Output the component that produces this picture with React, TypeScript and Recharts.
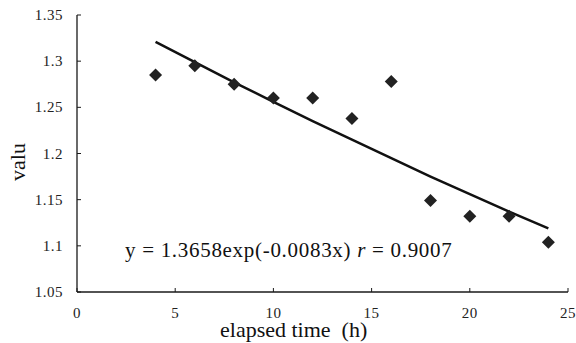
import { ScatterChart, Scatter, XAxis, YAxis, Customized } from "recharts";

const hours = [4, 6, 8, 10, 12, 14, 16, 18, 20, 22, 24];
const measured = [1.285, 1.295, 1.275, 1.26, 1.26, 1.238, 1.278, 1.149, 1.132, 1.132, 1.104];
// fitted curve at each sample time
const fitted = [1.321, 1.299, 1.277, 1.256, 1.235, 1.215, 1.195, 1.175, 1.156, 1.137, 1.119];
const xTicks = [0, 5, 10, 15, 20, 25];
const yTicks = [1.05, 1.1, 1.15, 1.2, 1.25, 1.3, 1.35];

const points = hours.map((h, i) => ({ x: h, y: measured[i] }));
const curve = hours.map((h, i) => ({ x: h, y: fitted[i] }));

const FONT = "'Liberation Serif', 'Times New Roman', serif";
const INK = "#1a1a1a";

function Diamond(props: any) {
  const { cx, cy } = props;
  const r = 6.5;
  return (
    <polygon
      points={`${cx},${cy - r} ${cx + r},${cy} ${cx},${cy + r} ${cx - r},${cy}`}
      fill="#222"
    />
  );
}

function XTick(props: any) {
  const { x, y, payload } = props;
  return (
    <g>
      <line x1={x} y1={y} x2={x} y2={y - 4} stroke={INK} strokeWidth={1} />
      <text x={x} y={y + 26} textAnchor="middle" fontFamily={FONT} fontSize={15} fill="#222" letterSpacing={0.5}>
        {payload.value}
      </text>
    </g>
  );
}

function YTick(props: any) {
  const { x, y, payload } = props;
  return (
    <g>
      <line x1={x} y1={y} x2={x + 4} y2={y} stroke={INK} strokeWidth={1} />
      <text x={x - 14} y={y + 5} textAnchor="end" fontFamily={FONT} fontSize={15} fill="#222" letterSpacing={0.5}>
        {payload.value}
      </text>
    </g>
  );
}

function Annotations() {
  return (
    <g fontFamily={FONT} fill="#111">
      <text x={125} y={256.5} fontSize={21} letterSpacing={0.7} style={{ whiteSpace: "pre" }}>
        y = 1.3658exp(-0.0083x) <tspan fontStyle="italic">r</tspan> = 0.9007
      </text>
      <text x={220} y={337} fontSize={22} style={{ whiteSpace: "pre" }}>
        elapsed time  (h)
      </text>
      <text x={25} y={162} fontSize={22} textAnchor="middle" transform="rotate(-90 25 162)">
        valu
      </text>
    </g>
  );
}

export default function App() {
  return (
    <div style={{ position: "absolute", left: 0, top: 0, background: "#fff" }}>
      <ScatterChart width={576} height={343} margin={{ top: 15, right: 8, bottom: 0, left: 0 }}>
        <XAxis
          type="number"
          dataKey="x"
          domain={[0, 25]}
          ticks={xTicks}
          tickSize={0}
          tickMargin={0}
          tickLine={false}
          tick={<XTick />}
          axisLine={{ stroke: INK, strokeWidth: 1.3 }}
          height={51}
          interval={0}
        />
        <YAxis
          type="number"
          dataKey="y"
          domain={[1.05, 1.35]}
          ticks={yTicks}
          tickSize={0}
          tickMargin={0}
          tickLine={false}
          tick={<YTick />}
          axisLine={{ stroke: INK, strokeWidth: 1.3 }}
          width={77}
          interval={0}
          allowDataOverflow
        />
        <Scatter
          data={curve}
          line={{ stroke: "#111", strokeWidth: 2.5 }}
          shape={() => null}
          isAnimationActive={false}
        />
        <Scatter data={points} shape={<Diamond />} isAnimationActive={false} />
        <Customized component={<Annotations />} />
      </ScatterChart>
    </div>
  );
}
